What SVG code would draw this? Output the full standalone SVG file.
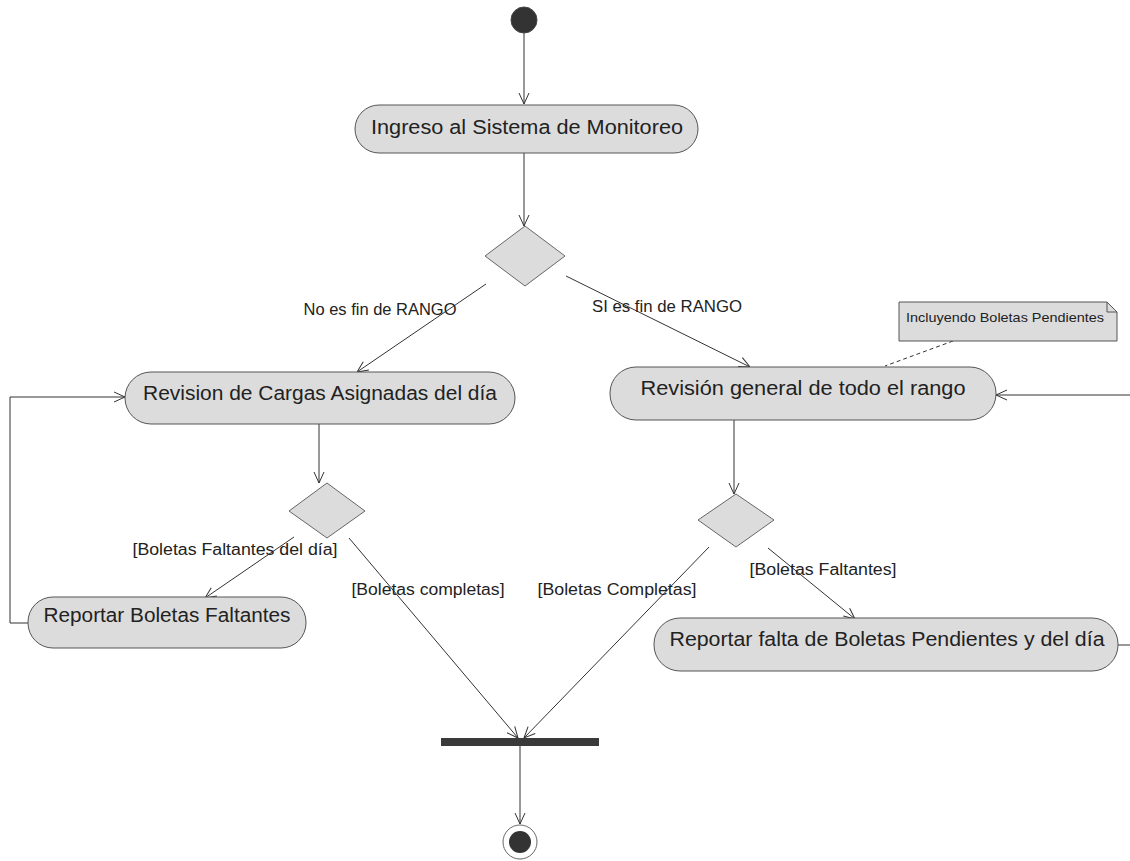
<svg xmlns="http://www.w3.org/2000/svg" width="1130" height="861" viewBox="0 0 1130 861">
  <style>
    .act { fill: #dcdcdc; stroke: #555; stroke-width: 1; }
    .dec { fill: #dcdcdc; stroke: #666; stroke-width: 1; }
    .flow { fill: none; stroke: #333; stroke-width: 1; }
    .atext { font-family: "Liberation Sans", Arial, sans-serif; font-size: 20px; fill: #222; text-anchor: middle; }
    .lbl { font-family: "Liberation Sans", Arial, sans-serif; font-size: 16px; fill: #222; text-anchor: middle; }
    .note { font-family: "Liberation Sans", Arial, sans-serif; font-size: 13px; fill: #222; }
  </style>
  <defs>
    <marker id="open" viewBox="0 0 12 12" refX="12" refY="6" markerWidth="12" markerHeight="12" markerUnits="userSpaceOnUse" orient="auto">
      <path d="M1,1 L12,6 L1,11" fill="none" stroke="#333" stroke-width="1"/>
    </marker>
  </defs>
  <rect width="1130" height="861" fill="#ffffff"/>

  <!-- control flows -->
  <g id="flows">
    <line class="flow" x1="524" y1="33" x2="524" y2="104" marker-end="url(#open)"/>
    <line class="flow" x1="524" y1="153" x2="524" y2="226" marker-end="url(#open)"/>
    <line class="flow" x1="486" y1="284" x2="357" y2="372" marker-end="url(#open)"/>
    <line class="flow" x1="566" y1="276" x2="750" y2="367" marker-end="url(#open)"/>
    <line class="flow" x1="319" y1="424" x2="319" y2="483" marker-end="url(#open)"/>
    <line class="flow" x1="294" y1="537" x2="205" y2="598" marker-end="url(#open)"/>
    <line class="flow" x1="349" y1="538" x2="518" y2="738" marker-end="url(#open)"/>
    <polyline class="flow" points="28,623 10,623 10,397 125,397" marker-end="url(#open)"/>
    <line class="flow" x1="734" y1="420" x2="734" y2="494" marker-end="url(#open)"/>
    <line class="flow" x1="709" y1="547" x2="524" y2="738" marker-end="url(#open)"/>
    <line class="flow" x1="768" y1="548" x2="855" y2="619" marker-end="url(#open)"/>
    <line class="flow" x1="1118" y1="645" x2="1130" y2="645"/>
    <line class="flow" x1="1130" y1="395" x2="996" y2="395" marker-end="url(#open)"/>
    <line class="flow" x1="520" y1="746" x2="520" y2="824" marker-end="url(#open)"/>
    <line class="flow" x1="953" y1="341" x2="885" y2="366" stroke-dasharray="4,3"/>

    <text class="lbl" x="380" y="315" textLength="153" lengthAdjust="spacingAndGlyphs">No es fin de RANGO</text>
    <text class="lbl" x="667" y="312" textLength="150" lengthAdjust="spacingAndGlyphs">SI es fin de RANGO</text>
    <text class="lbl" x="235" y="555" textLength="205" lengthAdjust="spacingAndGlyphs">[Boletas Faltantes del día]</text>
    <text class="lbl" x="428" y="595" textLength="153" lengthAdjust="spacingAndGlyphs">[Boletas completas]</text>
    <text class="lbl" x="617" y="595" textLength="159" lengthAdjust="spacingAndGlyphs">[Boletas Completas]</text>
    <text class="lbl" x="823" y="575" textLength="147" lengthAdjust="spacingAndGlyphs">[Boletas Faltantes]</text>
  </g>

  <g id="start">
    <circle cx="524" cy="20" r="13" fill="#333" stroke="#444"/>
  </g>

  <g id="ingreso">
    <rect class="act" x="355" y="105" width="343" height="48" rx="24"/>
    <text class="atext" x="527" y="134" textLength="312" lengthAdjust="spacingAndGlyphs">Ingreso al Sistema de Monitoreo</text>
  </g>

  <g id="decision-rango">
    <polygon class="dec" points="525,226 565,256 525,286 485,256"/>
  </g>

  <g id="revision-cargas">
    <rect class="act" x="125" y="372" width="390" height="52" rx="26"/>
    <text class="atext" x="320" y="400" textLength="354" lengthAdjust="spacingAndGlyphs">Revision de Cargas Asignadas del día</text>
  </g>

  <g id="revision-general">
    <rect class="act" x="610" y="367" width="386" height="53" rx="26"/>
    <text class="atext" x="803" y="395" textLength="325" lengthAdjust="spacingAndGlyphs">Revisión general de todo el rango</text>
  </g>

  <g id="note-pendientes">
    <path d="M899,302 L1107,302 L1117,312 L1117,341 L899,341 Z" fill="#dcdcdc" stroke="#555"/>
    <path d="M1107,302 L1107,312 L1117,312" fill="none" stroke="#555"/>
    <text class="note" x="906" y="322" textLength="198" lengthAdjust="spacingAndGlyphs">Incluyendo Boletas Pendientes</text>
  </g>

  <g id="decision-dia">
    <polygon class="dec" points="327,483 365,511 327,538 289,511"/>
  </g>

  <g id="decision-general">
    <polygon class="dec" points="736,494 774,520 736,547 698,520"/>
  </g>

  <g id="reportar-faltantes">
    <rect class="act" x="28" y="597" width="278" height="51" rx="25"/>
    <text class="atext" x="167" y="622" textLength="247" lengthAdjust="spacingAndGlyphs">Reportar Boletas Faltantes</text>
  </g>

  <g id="reportar-falta">
    <rect class="act" x="654" y="618" width="464" height="53" rx="26"/>
    <text class="atext" x="887" y="646" textLength="435" lengthAdjust="spacingAndGlyphs">Reportar falta de Boletas Pendientes y del día</text>
  </g>

  <g id="join">
    <rect x="441" y="738" width="158" height="8" fill="#3a3a3a"/>
  </g>

  <g id="final">
    <circle cx="520" cy="842" r="17" fill="#fff" stroke="#666"/>
    <circle cx="520" cy="842" r="11" fill="#333"/>
  </g>
</svg>
